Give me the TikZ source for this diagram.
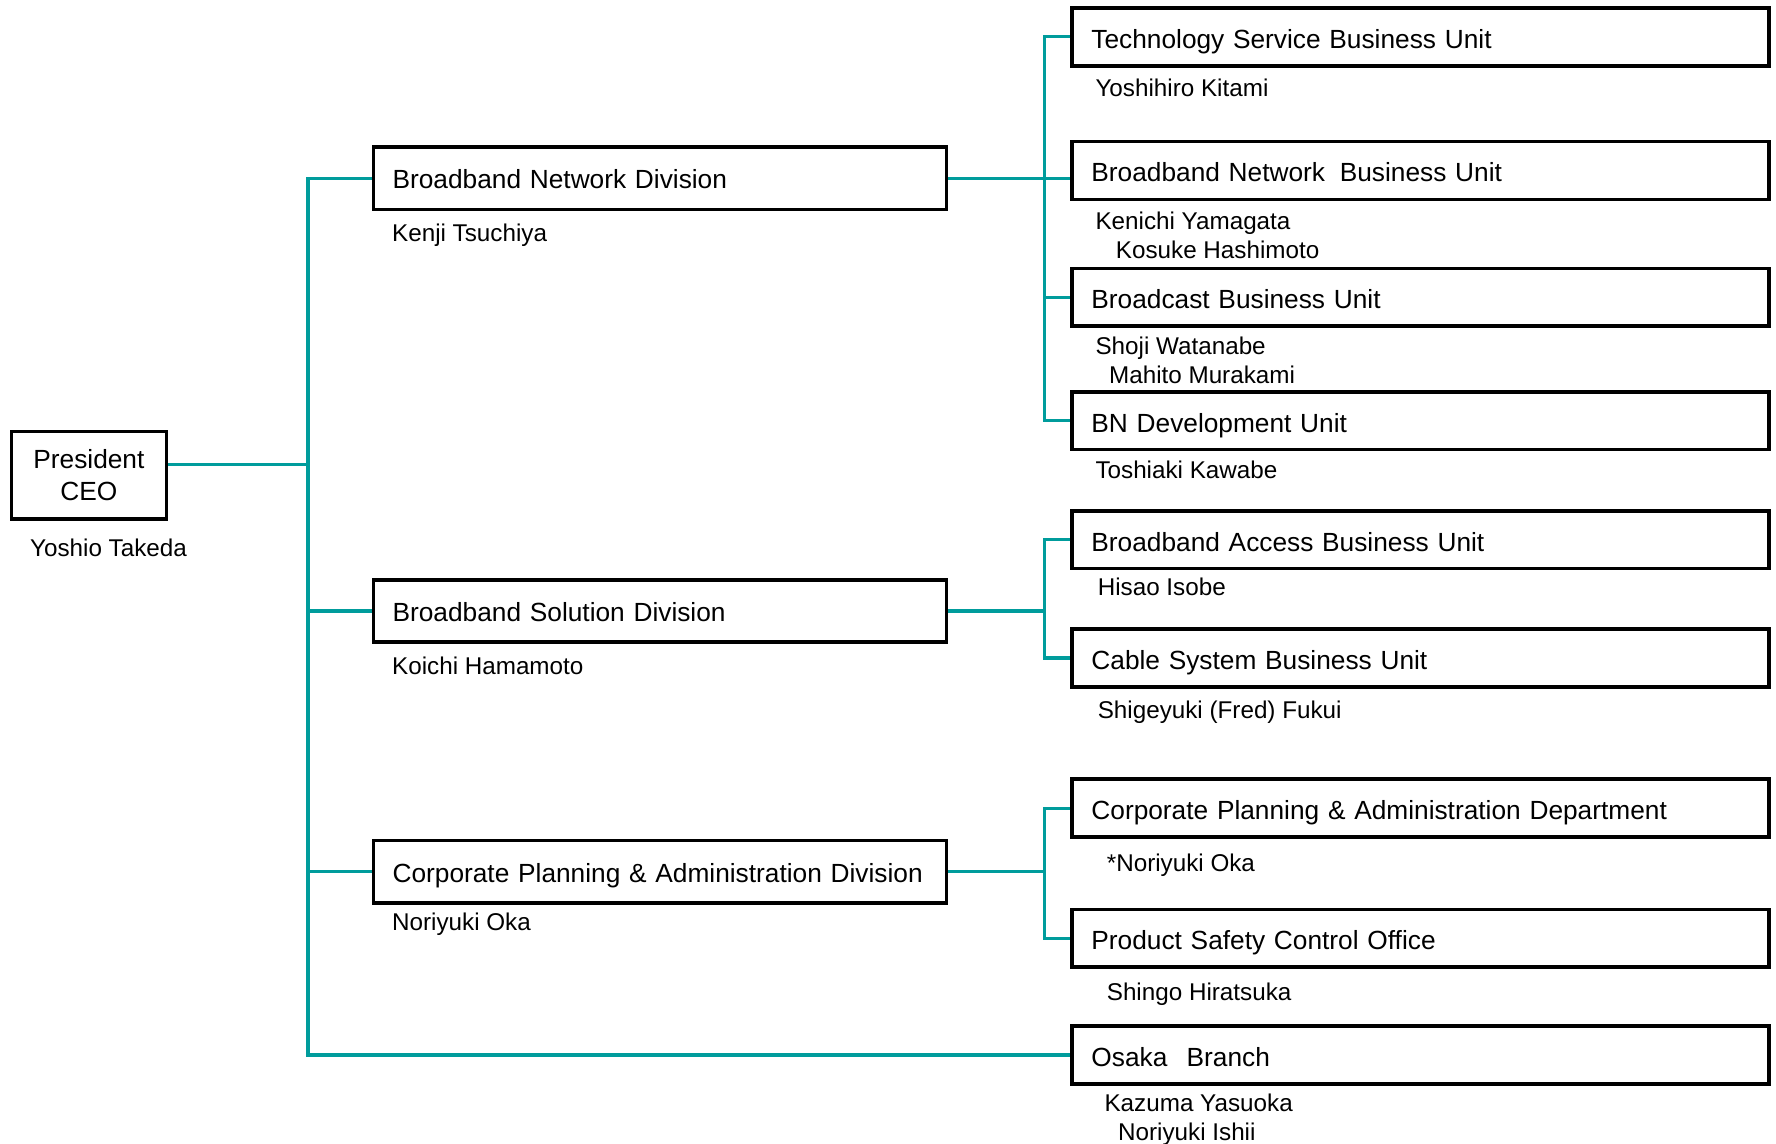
\documentclass[tikz,border=0pt]{standalone}
\usepackage{fontspec}
\setmainfont{Liberation Sans}
\usetikzlibrary{positioning}
\definecolor{orgteal}{RGB}{0,156,156}
\tikzset{%
  headbox/.style  = {shape=rectangle, draw, line width=3.2pt, align=center,%
                     minimum width=137pt, minimum height=77pt, inner sep=0pt,%
                     font=\fontsize{23.2}{28}\selectfont},%
  divbox/.style   = {shape=rectangle, draw, line width=3.2pt, anchor=west,%
                     text width=472pt, inner xsep=17pt, minimum height=55pt,%
                     text height=18.5pt, text depth=0pt,%
                     align=left, font=\fontsize{23.2}{28}\selectfont},%
  unitbox/.style  = {divbox, text width=581pt, inner xsep=17pt, minimum height=51pt,%
                     text height=20pt},%
  person/.style   = {inner sep=0pt, align=left, font=\fontsize{21.4}{25.5}\selectfont},%
  link/.style     = {draw=orgteal, line width=2.9pt}%
}

\begin{document}
\begin{tikzpicture}[x=1pt, y=-1pt]
  \useasboundingbox (0,0) rectangle (1568,1010);

  % top of the chart
  \node[headbox] (ceo) at (78.5,419.5) {President\\CEO};
  \node[person, below right=31.5pt and 18pt of ceo.south west, anchor=base west] (ceoname) {Yoshio Takeda};

  % divisions
  \node[divbox] (bnd)  at (328,157.5) {Broadband Network Division};
  \node[divbox] (bsd)  at (328,539.5) {Broadband Solution Division};
  \node[divbox] (cpad) at (328,769.5) {Corporate Planning \& Administration Division};
  \node[person, below right=26.5pt and 18pt of bnd.south west, anchor=base west]  (bndname)  {Kenji Tsuchiya};
  \node[person, below right=26.5pt and 18pt of bsd.south west, anchor=base west]  (bsdname)  {Koichi Hamamoto};
  \node[person, below right=23pt and 18pt of cpad.south west, anchor=base west]   (cpadname) {Noriyuki Oka};

  % units
  \node[unitbox] (tsbu)    at (945,32.5)  {Technology Service Business Unit};
  \node[unitbox] (bnbu)    at (945,150.5) {Broadband Network\hspace{13pt}Business Unit};
  \node[unitbox] (bbu)     at (945,262.5) {Broadcast Business Unit};
  \node[unitbox] (bndu)    at (945,371.5) {BN Development Unit};
  \node[unitbox] (babu)    at (945,476.5) {Broadband Access Business Unit};
  \node[unitbox] (csbu)    at (945,581)   {Cable System Business Unit};
  \node[unitbox] (cpadept) at (945,713.5) {Corporate Planning \& Administration Department};
  \node[unitbox] (psco)    at (945,828.5) {Product Safety Control Office};
  \node[unitbox] (osaka)   at (945,931.5) {Osaka\hspace{17pt}Branch};

  % names under the units (base of a two-line name is its last line)
  \node[person, below right=26pt and 22pt of tsbu.south west, anchor=base west]      {Yoshihiro Kitami};
  \node[person, below right=50.5pt and 22pt of bnbu.south west, anchor=base west]    {Kenichi Yamagata\\\hspace*{18pt}Kosuke Hashimoto};
  \node[person, below right=49pt and 22pt of bbu.south west, anchor=base west]       {Shoji Watanabe\\\hspace*{12pt}Mahito Murakami};
  \node[person, below right=24pt and 22pt of bndu.south west, anchor=base west]      {Toshiaki Kawabe};
  \node[person, below right=22pt and 24pt of babu.south west, anchor=base west]      {Hisao Isobe};
  \node[person, below right=26pt and 24pt of csbu.south west, anchor=base west]      {Shigeyuki (Fred) Fukui};
  \node[person, below right=29pt and 32pt of cpadept.south west, anchor=base west]   {*Noriyuki Oka};
  \node[person, below right=28pt and 32pt of psco.south west, anchor=base west]      {Shingo Hiratsuka};
  \node[person, below right=48.5pt and 30pt of osaka.south west, anchor=base west]   {Kazuma Yasuoka\\\hspace*{12pt}Noriyuki Ishii};

  % connectors
  \coordinate (trunk) at (272,410);
  \coordinate[right=85pt of bnd.east]  (j1);
  \coordinate[right=85pt of bsd.east]  (j2);
  \coordinate[right=85pt of cpad.east] (j3);

  \draw[link] (ceo.east |- trunk) -- (trunk);
  \draw[link] (trunk) |- (bnd.west);
  \draw[link] (trunk) |- (bsd.west);
  \draw[link] (trunk) |- (cpad.west);
  \draw[link] (trunk) |- (osaka.west);

  \draw[link] (bnd.east) -- (bnbu.west |- j1);
  \draw[link] (tsbu.west) -| (j1) |- (bndu.west);
  \draw[link] (j1 |- bbu.west) -- (bbu.west);

  \draw[link] (bsd.east) -- (j2);
  \draw[link] (babu.west) -| (j2) |- (csbu.west);

  \draw[link] (cpad.east) -- (j3);
  \draw[link] (cpadept.west) -| (j3) |- (psco.west);
\end{tikzpicture}
\end{document}
